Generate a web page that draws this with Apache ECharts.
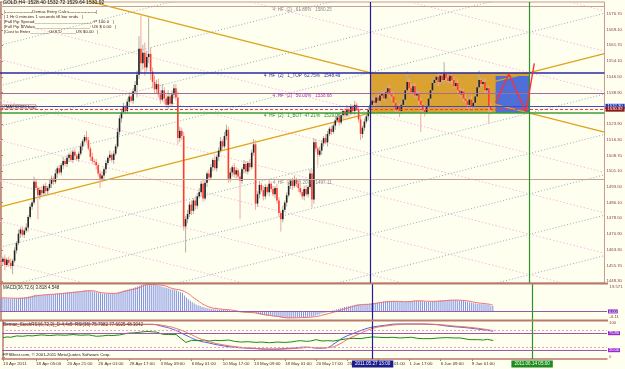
<!DOCTYPE html>
<html>
<head>
<meta charset="utf-8">
<script src="https://cdn.jsdelivr.net/npm/echarts@6.0.0/dist/echarts.min.js"></script>
<style>
  html, body { margin: 0; padding: 0; background: #fffff0; }
  #main { width: 625px; height: 369px; }
</style>
</head>
<body>
<div id="main"></div>
<script>
// GOLD H4, one value per bar, bar 0 = 13 Apr 2011, bar 252 = 10 Jun 21:00
const firstOpen = 1458.0;
const closes = [
  1457.5,1459.0,1456.0,1458.5,1457.0,1455.5,1458.0,1463.0,1466.5,1471.0,
  1473.0,1470.5,1472.5,1474.0,1479.0,1484.0,1486.0,1496.0,1493.0,1489.5,
  1492.0,1490.5,1494.0,1491.5,1493.0,1495.0,1497.5,1496.0,1500.0,1502.5,
  1500.5,1504.0,1506.0,1504.5,1507.5,1509.0,1506.5,1510.5,1508.5,1507.0,
  1509.5,1513.0,1515.5,1517.5,1516.0,1512.0,1508.0,1506.0,1505.5,1504.0,
  1500.0,1497.5,1499.0,1502.0,1505.0,1507.5,1509.0,1506.5,1509.5,1513.0,
  1520.0,1526.5,1529.5,1532.0,1530.0,1534.5,1537.0,1535.0,1539.5,1542.5,
  1547.5,1560.0,1553.0,1558.0,1551.0,1556.0,1557.5,1549.0,1544.0,1540.5,
  1543.0,1538.0,1535.5,1540.0,1536.0,1533.0,1537.0,1533.5,1538.0,1541.0,
  1536.5,1517.0,1520.5,1518.0,1474.5,1478.0,1480.5,1485.0,1482.0,1487.0,
  1484.5,1489.0,1491.0,1495.0,1488.0,1495.5,1500.0,1498.0,1503.0,1506.5,
  1502.5,1508.0,1511.0,1515.5,1513.0,1518.0,1521.0,1497.5,1500.5,1503.0,
  1499.5,1501.5,1498.5,1496.5,1502.0,1504.5,1501.0,1505.0,1503.0,1510.0,
  1514.0,1485.5,1490.0,1494.5,1492.0,1489.0,1493.5,1491.0,1495.0,1492.5,
  1490.0,1493.0,1487.0,1481.0,1478.0,1482.5,1486.0,1489.5,1494.0,1496.5,
  1494.0,1497.0,1495.0,1493.0,1491.0,1489.0,1492.5,1490.0,1493.5,1500.0,
  1487.5,1515.0,1512.0,1509.0,1511.0,1514.5,1517.0,1515.0,1519.0,1521.5,
  1520.0,1523.0,1525.5,1527.0,1524.5,1528.0,1530.0,1528.0,1531.0,1529.0,
  1532.0,1530.0,1533.0,1531.0,1526.0,1519.0,1522.0,1525.0,1527.5,1530.5,
  1533.0,1535.0,1534.0,1536.5,1535.0,1537.5,1538.5,1536.0,1539.0,1541.0,
  1538.0,1537.0,1534.0,1531.0,1532.5,1530.0,1533.0,1535.5,1540.0,1544.0,
  1541.0,1539.0,1542.0,1537.5,1538.5,1535.0,1533.0,1530.5,1529.5,1532.5,
  1536.0,1540.0,1543.5,1545.0,1546.5,1544.0,1547.0,1545.0,1548.0,1546.0,
  1544.5,1547.0,1545.0,1542.0,1543.5,1540.0,1538.0,1539.5,1536.0,1535.0,
  1533.0,1535.5,1532.0,1534.0,1537.0,1541.5,1545.0,1543.0,1544.0,1540.0,
  1541.0,1532.0,1530.92
];
// wick lengths above / below the body, dollars
const wickUp = [
  1.5,1,2,1,1.5,2,1,1.5,1,2, 1,1.5,1,2,1,1.5,1,2.5,1.5,1, 1.5,2,1,1.5,1,2,1.5,1,2,1,
  1.5,1,2,1,1.5,1,2,1,1.5,1, 1,1.5,1,1,3,1.5,1,2,1,1.5, 1,1.5,2,1,1.5,1,2,1,1.5,1,
  2,1.5,1,2,1,1.5,2,1,1.5,2, 2,6,16,4,5,3,17.5,3,2,3, 2,2.5,2,3,1.5,2,3,1.5,2,2,
  2,3,2,1.5,2,1.5,2,1.5,2,1, 2,1.5,2,1.5,2,1.5,1,2,1.5,1, 2,1,1.5,2,1,2,2.5,1.5,2,1,
  2,1.5,1,2,1,2,1.5,1,2,1.5, 2.5,2,1.5,2,1,2,1.5,1,2,1, 1.5,1,2,1.5,1,2,1,1.5,2,1,
  1.5,2,1,1.5,2,1,1.5,2,1,2, 2,2,1.5,1,2,1.5,1,2,1.5,1, 1.5,1,2,1.5,1,2,1,1.5,2,1,
  1.5,1,2,1,1.5,2,1,1.5,1,2, 1.5,2,1.5,1,2,2.5,1.5,1,2,1.5, 1,1.5,2,1,1.5,1,2,1.5,1,5,
  1.5,2,1,1.5,2,1,1.5,1,2,1, 1.5,1,2,1,1.5,2,1,1.5,5.5,1, 1.5,2,1,1.5,1,2,1,1.5,1,2,
  1,1.5,2,1,1.5,2,4.5,1,1.5,2, 1,1,1.8
];
const wickDn = [
  2,1.5,2.5,1,2,1.5,4,1,1.5,1, 2,1,1.5,1,2,1,1.5,1,1,11.5, 2,1.5,1,2,1.5,1,2,1.5,1,2,
  1,1.5,2,1,1.5,2,1,1.5,2,1, 1.5,1,2,1,1.5,1,2,1,1.5,2, 1.5,4.5,1,1.5,2,1,1.5,1,2,1,
  1,1.5,2,1,1.5,1,2,1,1.5,1, 6,2,5,3,4,2,3,4,3,2, 2,1.5,2,1,2.5,1.5,2,1,1.5,2,
  1.5,3,2,2,2,12.5,2,1.5,2,1.5, 2,1.5,1,2,1.5,1,2,1.5,1,2, 1,1.5,2,1,1.5,1,2,2,1.5,2,
  1.5,2,1,18.5,1.5,2,1,1.5,2,1, 1.5,3,1.5,2,1,2,1.5,1,2,1.5, 1,2,1.5,2,6,1.5,1,2,1,1.5,
  2,1,1.5,2,1,1.5,2,1,1.5,1, 4,2,1.5,5,1,2,1.5,1,2,1, 1.5,1,2,1,1.5,1,2,1.5,1,2,
  1,1.5,2,1,1.5,3,2,1.5,1,2, 1.5,1,2,1.5,1,2,1.5,1,2,1, 1.5,2,1,1.5,2,3,1.5,1,2,1,
  1.5,1,2,1,1.5,2,13,1.5,2,1, 1.5,2,1,1.5,1,2,1.5,1,2,1.5, 1,1.5,2,1,1.5,2,1,2,1.5,1,
  2,1.5,1,2,1.5,1,2,1.5,1,2, 1.5,8,2.5
];

// MACD(36,72,6) main, one value per bar
const macdHist = [
  9.6,9.5,9.4,9.3,9.2,9.1,9.1,9.2,9.3,9.5,
  9.7,9.9,10.1,10.3,10.6,10.9,11.2,11.7,11.9,11.8,
  11.8,11.8,11.9,11.9,12.0,12.1,12.3,12.4,12.6,12.8,
  12.9,13.1,13.3,13.4,13.6,13.8,13.9,14.1,14.2,14.2,
  14.3,14.5,14.7,14.9,15.0,14.9,14.6,14.3,14.0,13.7,
  13.3,13.0,12.8,12.7,12.7,12.8,12.9,12.9,13.0,13.2,
  13.6,14.1,14.6,15.0,15.3,15.7,16.1,16.4,16.8,17.2,
  17.7,18.4,18.8,19.2,19.4,19.5,19.6,19.5,19.3,19.0,
  18.7,18.3,17.9,17.5,17.1,16.7,16.3,15.9,15.6,15.3,
  15.0,14.3,13.7,13.1,11.4,9.9,8.7,7.6,6.6,5.8,
  5.0,4.4,3.9,3.4,3.0,2.6,2.3,2.0,1.8,1.6,
  1.4,1.3,1.2,1.1,1.1,1.0,1.0,0.6,0.3,0.1,
  -0.1,-0.3,-0.5,-0.7,-0.8,-0.9,-1.0,-1.1,-1.1,-1.1,
  -1.1,-1.6,-2.0,-2.3,-2.6,-2.8,-3.0,-3.2,-3.3,-3.5,
  -3.6,-3.8,-4.0,-4.3,-4.6,-4.7,-4.8,-4.8,-4.8,-4.7,
  -4.6,-4.5,-4.4,-4.3,-4.2,-4.1,-4.0,-3.9,-3.8,-3.6,
  -3.6,-3.0,-2.5,-2.1,-1.7,-1.3,-0.9,-0.5,-0.1,0.3,
  0.7,1.1,1.5,1.9,2.3,2.7,3.1,3.4,3.7,4.0,
  4.3,4.6,4.9,5.1,5.1,5.0,5.0,5.1,5.3,5.5,
  5.8,6.0,6.2,6.4,6.6,6.8,7.0,7.1,7.2,7.3,
  7.3,7.2,7.1,7.0,6.9,6.8,6.8,6.9,7.1,7.4,
  7.5,7.6,7.7,7.7,7.6,7.4,7.2,7.0,6.8,6.8,
  6.9,7.1,7.3,7.5,7.7,7.8,7.9,8.0,8.1,8.2,
  8.2,8.2,8.2,8.1,8.0,7.8,7.6,7.4,7.2,6.9,
  6.6,6.3,6.0,5.7,5.5,5.4,5.3,5.2,5.1,4.9,
  4.7,4.2,3.818
];
// [bar, value] points
const macdSignal = [[0,9.8],[10,9.4],[20,11.5],[30,12.6],[40,14.0],[46,14.8],[52,13.3],[58,12.9],
  [64,14.6],[70,16.6],[76,19.2],[82,18.8],[88,16.3],[94,14.2],[100,8.5],[106,3.5],[112,1.8],
  [118,1.0],[124,-0.4],[130,-1.0],[136,-2.5],[142,-3.6],[148,-4.6],[154,-4.4],[160,-3.9],
  [166,-2.2],[172,0.1],[178,2.6],[184,4.7],[190,5.3],[196,6.6],[202,7.2],[208,6.9],[214,7.6],
  [220,7.2],[226,7.5],[232,8.1],[238,7.7],[244,6.2],[250,5.2],[252,4.548]];
const stochK = [[0,97],[20,96],[40,97],[60,96],[76,96],[82,90],[88,80],[94,64],[100,49],[106,41],
  [112,34],[118,29],[126,26],[138,23],[148,26],[156,29],[162,26],[166,27],[171,42],[175,57],
  [180,69],[186,82],[190,88],[196,93],[203,97],[210,97],[220,96],[230,90],[240,85],[252,75.8]];
const stochD = [[0,96],[20,96],[40,96],[60,96],[76,96],[84,91],[90,82],[96,68],[102,52],[108,42],
  [114,35],[120,30],[128,26],[140,23],[150,25],[158,28],[164,27],[168,28],[173,38],[177,52],
  [182,65],[188,80],[192,87],[198,92],[205,96],[212,97],[222,96],[232,91],[242,86],[252,77.6]];
const rsiLine = [[0,57],[2,59],[4,58],[7,62],[10,61],[13,63],[15,62],[18,64],[20,65],[24,63],
  [28,65],[32,64],[36,66],[40,64],[44,65],[46,63],[48,61],[51,62],[54,64],[56,63],[60,65],
  [64,70],[67,71],[69,72],[72,74],[74,75],[77,74],[79,73],[82,67],[85,66],[89,66],[92,52],
  [94,43],[97,49],[100,48],[103,50],[106,47],[109,49],[112,48],[116,50],[119,46],[122,44],
  [126,45],[130,43],[133,44],[137,42],[141,44],[145,43],[148,44],[151,47],[153,48],[156,46],
  [158,47],[161,51],[164,47],[167,48],[170,47],[173,50],[176,53],[180,55],[184,54],[187,57],
  [190,59],[193,58],[197,57],[200,58],[204,56],[207,57],[210,58],[213,55],[216,54],[220,54],
  [224,56],[228,57],[232,56],[235,56],[238,53],[240,51],[244,51],[247,50],[249,52],[252,48.3]];

const priceTicks = [1576.70,1569.10,1561.70,1554.10,1546.50,1538.90,1531.30,1523.90,1516.30,
  1508.70,1501.10,1493.50,1486.10,1478.50,1470.90,1463.30,1455.70,1448.30];
const timeTickIdx = [0,17,33,49,65,81,97,113,129,145,161,177,193,209,225,241];
const timeTickText = ['13 Apr 2011','18 Apr 05:00','20 Apr 21:00','26 Apr 01:00','28 Apr 17:00',
  '3 May 09:00','6 May 01:00','10 May 17:00','13 May 09:00','18 May 01:00','20 May 17:00',
  '25 May 09:00','27 May 01:00','1 Jun 17:00','6 Jun 09:00','9 Jun 01:00'];

const levelPrices = [1580.25, 1548.49, 1538.68, 1529.06, 1497.11];
const levelTexts = ['4  HF  (2)   61.80%   1580.25', '4  HF  (2)   1_TOP  62.75%   1548.49',
  '4  HF  (2)   50.00%   1538.68', '4  HF  (2)   1_BOT  47.21%   1529.06', '4  HF  (2)   38.20%   1497.11'];
const orderPrices = [1532.30, 1530.92];

const boxLeft = 190, boxRight = 272, boxTop = 1548.49, boxBottom = 1529.06;
const blueBoxLeft = 254.5, blueBoxTop = 1546.9;
const zigzagIdx = [254.5, 261.3, 270.1, 274.4];
const zigzagPrice = [1534.0, 1548.0, 1529.6, 1553.0];
const buyLineIdx = 190, targetLineIdx = 272;

// ---------------------------------------------------------------
const XMIN = -0.5, XMAX = 310.5;
const frame = '#b87a6a';
const axisText = '#8a3c3c';
const FONT = 'Liberation Sans';

const candles = closes.map((c, i) => {
  const o = i === 0 ? firstOpen : closes[i - 1];
  const h = Math.max(o, c) + wickUp[i];
  const l = Math.min(o, c) - wickDn[i];
  return [i, o, c, l, h];
});

const slope = (boxTop - boxBottom) / (boxRight - boxLeft);
const boxH = boxTop - boxBottom;
function lattice(base, dir) {
  return [[XMIN, base + dir * slope * (XMIN - boxLeft)], [XMAX, base + dir * slope * (XMAX - boxLeft)]];
}
const series = [];
for (let k = -8; k <= 8; k++) {
  if (k !== 0) {
    series.push({ type: 'line', xAxisIndex: 0, yAxisIndex: 0, silent: true, showSymbol: false, z: 1,
      data: lattice(boxTop + k * boxH, -1),
      lineStyle: { color: '#f3b9e2', width: 1, type: [1.5, 2] } });
    series.push({ type: 'line', xAxisIndex: 0, yAxisIndex: 0, silent: true, showSymbol: false, z: 1,
      data: lattice(boxBottom + k * boxH, 1),
      lineStyle: { color: '#93abc6', width: 1, type: [1, 2] } });
  }
}

// boxes
series.push({
  type: 'line', xAxisIndex: 0, yAxisIndex: 0, data: [], z: 2, silent: true,
  markArea: {
    silent: true,
    data: [
      [{ xAxis: boxLeft, yAxis: boxTop, itemStyle: { color: '#d9a232', opacity: 1 } }, { xAxis: boxRight, yAxis: boxBottom }],
      [{ xAxis: blueBoxLeft, yAxis: blueBoxTop, itemStyle: { color: '#4e6ed8', opacity: 1 } }, { xAxis: boxRight, yAxis: boxBottom }]
    ]
  }
});

// orange trend lines
series.push({ type: 'line', xAxisIndex: 0, yAxisIndex: 0, silent: true, showSymbol: false, z: 3,
  data: lattice(boxTop, -1), lineStyle: { color: '#e0a21c', width: 1.3 } });
series.push({ type: 'line', xAxisIndex: 0, yAxisIndex: 0, silent: true, showSymbol: false, z: 3,
  data: lattice(boxBottom, 1), lineStyle: { color: '#e0a21c', width: 1.3 } });

// candles
series.push({
  type: 'custom', xAxisIndex: 0, yAxisIndex: 0, z: 4, clip: true,
  data: candles,
  encode: { x: 0, y: [1, 2, 3, 4] },
  renderItem: function (params, api) {
    const i = api.value(0), o = api.value(1), c = api.value(2), l = api.value(3), h = api.value(4);
    const pH = api.coord([i, h]), pL = api.coord([i, l]);
    const pO = api.coord([i, o]), pC = api.coord([i, c]);
    const up = c >= o;
    const bw = 1.6;
    const top = Math.min(pO[1], pC[1]);
    const bh = Math.max(Math.abs(pO[1] - pC[1]), 0.8);
    return {
      type: 'group',
      children: [
        { type: 'line', shape: { x1: pH[0], y1: pH[1], x2: pL[0], y2: pL[1] },
          style: { stroke: up ? '#b4aca6' : '#f4a6a2', lineWidth: 1 } },
        { type: 'rect', shape: { x: pO[0] - bw / 2, y: top, width: bw, height: bh },
          style: { fill: up ? '#222222' : '#ff3b30' } }
      ]
    };
  }
});

// horizontal level lines with texts and right-side price boxes
const levelLine = ['#c9a09a', '#2a2aa2', '#a46a9c', '#3c9c3c', '#c9a09a'];
const levelTextColor = ['#8c8c8c', '#2a2aa2', '#a234b4', '#2a8a2a', '#8c8c8c'];
const levelBox = ['#c07c70', '#16168a', '#9a2ad0', '#1e8c1e', '#c07c70'];
const levelMarks = [];
levelPrices.forEach((p, n) => {
  levelMarks.push({ yAxis: p, lineStyle: { color: levelLine[n], width: n === 1 || n === 3 ? 1.5 : 1, type: 'solid' },
    label: { show: true, position: 'insideMiddleBottom', distance: 0.5, formatter: levelTexts[n],
      color: levelTextColor[n], fontSize: 4.6, fontFamily: FONT } });
  levelMarks.push({ yAxis: p, lineStyle: { opacity: 0 },
    label: { show: true, position: 'end', distance: 1, formatter: p.toFixed(2), color: '#ffffff',
      backgroundColor: levelBox[n], padding: [0.5, 2], fontSize: 4.2, fontFamily: FONT } });
});
levelMarks.push({ yAxis: orderPrices[0], lineStyle: { color: '#3a4cc8', width: 1, type: 'solid' },
  label: { show: true, position: 'end', distance: 1, formatter: orderPrices[0].toFixed(2), color: '#fff',
    backgroundColor: '#2038c8', padding: [0.5, 2], fontSize: 4.2, fontFamily: FONT } });
levelMarks.push({ yAxis: orderPrices[1], lineStyle: { color: '#ff3b30', width: 1.2, type: [3, 2] },
  label: { show: true, position: 'end', distance: 1, formatter: orderPrices[1].toFixed(2), color: '#fff',
    backgroundColor: '#8a1a1a', padding: [0.5, 2], fontSize: 4.2, fontFamily: FONT } });
series.push({ type: 'line', xAxisIndex: 0, yAxisIndex: 0, data: [], z: 5, silent: true,
  markLine: { silent: true, symbol: 'none', animation: false, data: levelMarks } });

// zigzag
series.push({ type: 'line', xAxisIndex: 0, yAxisIndex: 0, silent: true, showSymbol: false, z: 6,
  data: zigzagIdx.map((x, n) => [x, zigzagPrice[n]]), lineStyle: { color: '#ff3030', width: 1.4 } });

function vlines(withLabels) {
  return {
    silent: true, symbol: 'none', animation: false,
    data: [
      { xAxis: buyLineIdx, lineStyle: { color: '#1c1c9c', width: 1.2, type: 'solid' },
        label: withLabels ? { show: true, position: 'start', distance: 1.5, formatter: '2011.05.27 13:00',
          color: '#ffffff', backgroundColor: '#1c1c8c', padding: [1, 3], fontSize: 4.6, fontFamily: FONT } : { show: false } },
      { xAxis: targetLineIdx, lineStyle: { color: '#2e902e', width: 1.2, type: 'solid' },
        label: withLabels ? { show: true, position: 'start', distance: 1.5, formatter: '2011.06.14 05:00',
          color: '#ffffff', backgroundColor: '#1e8c1e', padding: [1, 3], fontSize: 4.6, fontFamily: FONT } : { show: false } }
    ]
  };
}
series.push({ type: 'line', xAxisIndex: 0, yAxisIndex: 0, data: [], z: 7, markLine: vlines(false) });

// MACD pane
series.push({ type: 'bar', xAxisIndex: 1, yAxisIndex: 1, barWidth: 1, z: 2, silent: true,
  data: macdHist.map((v, i) => [i, v]), itemStyle: { color: '#8193e6' },
  markLine: { silent: true, symbol: 'none', animation: false,
    data: [{ yAxis: 0, lineStyle: { color: '#9a58a8', width: 1, type: 'solid' },
      label: { show: true, position: 'end', distance: 1, formatter: '0.00', color: '#fff',
        backgroundColor: '#8a2ac0', padding: [0, 1], fontSize: 4, fontFamily: FONT } }] } });
series.push({ type: 'line', xAxisIndex: 1, yAxisIndex: 1, data: macdSignal, smooth: true, showSymbol: false,
  silent: true, z: 3, lineStyle: { color: '#f07070', width: 1 } });
series.push({ type: 'line', xAxisIndex: 1, yAxisIndex: 1, data: [], z: 7, markLine: vlines(false) });

// StochRSI pane
series.push({ type: 'line', xAxisIndex: 2, yAxisIndex: 2, data: stochK, smooth: true, showSymbol: false,
  silent: true, z: 3, lineStyle: { color: '#4a62d8', width: 1 },
  markLine: { silent: true, symbol: 'none', animation: false,
    data: [
      { yAxis: 80, lineStyle: { color: '#e79ccc', width: 1, type: [2, 2] }, label: { show: false } },
      { yAxis: 70, lineStyle: { color: '#9a5aa8', width: 1, type: 'solid' },
        label: { show: true, position: 'end', distance: 1, formatter: '75.80', color: '#fff',
          backgroundColor: '#9a2ad0', padding: [0, 1], fontSize: 4, fontFamily: FONT } },
      { yAxis: 30, lineStyle: { color: '#e79ccc', width: 1, type: [2, 2] }, label: { show: false } },
      { yAxis: 20, lineStyle: { color: '#9a5aa8', width: 1, type: 'solid' },
        label: { show: true, position: 'end', distance: 1, formatter: '20.00', color: '#fff',
          backgroundColor: '#9a2ad0', padding: [0, 1], fontSize: 4, fontFamily: FONT } }
    ] } });
series.push({ type: 'line', xAxisIndex: 2, yAxisIndex: 2, data: stochD, smooth: true, showSymbol: false,
  silent: true, z: 4, lineStyle: { color: '#f26a62', width: 1 } });
series.push({ type: 'line', xAxisIndex: 2, yAxisIndex: 2, data: rsiLine, showSymbol: false,
  silent: true, z: 3, lineStyle: { color: '#1a8a1a', width: 1 } });
series.push({ type: 'line', xAxisIndex: 2, yAxisIndex: 2, data: [], z: 7, markLine: vlines(true) });

function xAxisFor(g, withLabels) {
  return {
    type: 'value', gridIndex: g, min: XMIN, max: XMAX,
    axisLine: { show: withLabels, onZero: false, lineStyle: { color: frame, width: 1.5 } },
    splitLine: { show: false },
    axisTick: withLabels ? { show: true, length: 2, customValues: timeTickIdx, lineStyle: { color: frame } } : { show: false },
    axisLabel: withLabels ? {
      show: true, customValues: timeTickIdx, align: 'left', margin: 2.5, fontSize: 4.4, fontFamily: FONT, color: '#4a2a2a',
      formatter: v => timeTickText[timeTickIdx.indexOf(Math.round(v))] || ''
    } : { show: false }
  };
}

const option = {
  backgroundColor: '#fffff0',
  animation: false,
  grid: [
    { left: 0, right: 18, top: 2, height: 281, show: true, borderColor: '#c69a90', borderWidth: 1, backgroundColor: 'transparent' },
    { left: 0, right: 18, top: 284, height: 36 },
    { left: 0, right: 18, top: 321, height: 38 }
  ],
  xAxis: [xAxisFor(0, false), xAxisFor(1, false), xAxisFor(2, true)],
  yAxis: [
    { type: 'value', gridIndex: 0, position: 'right', min: 1447.31, max: 1582.47, scale: true,
      splitLine: { show: false },
      axisLine: { show: true, lineStyle: { color: frame, width: 1.5 } },
      axisTick: { show: true, length: 2, customValues: priceTicks, lineStyle: { color: frame } },
      axisLabel: { customValues: priceTicks, formatter: v => v.toFixed(2), margin: 2, fontSize: 4.3,
        fontFamily: FONT, color: axisText } },
    { type: 'value', gridIndex: 1, position: 'right', min: -6.11, max: 19.571,
      splitLine: { show: false },
      axisLine: { show: true, lineStyle: { color: frame, width: 1.5 } },
      axisTick: { show: false }, axisLabel: { show: false } },
    { type: 'value', gridIndex: 2, position: 'right', min: -5.9, max: 105.9,
      splitLine: { show: false },
      axisLine: { show: true, lineStyle: { color: frame, width: 1.5 } },
      axisTick: { show: true, length: 2, customValues: [100, 0], lineStyle: { color: frame } },
      axisLabel: { customValues: [100, 0], formatter: v => String(Math.round(v)), margin: 2, fontSize: 4.3,
        fontFamily: FONT, color: axisText } }
  ],
  series: series,
  graphic: [
    { type: 'rect', shape: { x: 0, y: 282.5, width: 608, height: 2 }, style: { fill: frame }, z: 50 },
    { type: 'rect', shape: { x: 0, y: 319.5, width: 608, height: 2 }, style: { fill: frame }, z: 50 },
    { type: 'text', left: 3, top: 0.5, z: 60, style: { text: 'GOLD,H4  1528.40 1532.72 1529.64 1530.92', fontSize: 5, fontFamily: FONT, fill: '#111' } },
    { type: 'text', left: 4, top: 9.5, z: 60, style: { text: '|-------------------Demac Entry Calcs-------------------|', fontSize: 4.3, fontFamily: FONT, fill: '#4a2020' } },
    { type: 'text', left: 4, top: 14.5, z: 60, style: { text: '| 1 Hr 0 minutes 1 seconds till bar ends   |', fontSize: 4.3, fontFamily: FONT, fill: '#4a2020' } },
    { type: 'text', left: 4, top: 19.5, z: 60, style: { text: '|Full Pip Spread________________________: P 100.0   |', fontSize: 4.3, fontFamily: FONT, fill: '#4a2020' } },
    { type: 'text', left: 4, top: 24.5, z: 60, style: { text: '|Full Pip $/Value_______________________: US $ 0.00   |', fontSize: 4.3, fontFamily: FONT, fill: '#4a2020' } },
    { type: 'text', left: 4, top: 29.5, z: 60, style: { text: '|Cost to Enter________GOLD______US $0.00   |', fontSize: 4.3, fontFamily: FONT, fill: '#4a2020' } },
    { type: 'text', left: 2, top: 104.5, z: 60, style: { text: '#MATS2020 buy', fontSize: 4.3, fontFamily: FONT, fill: '#3a2020',
      borderColor: '#a06060', borderWidth: 0.6, padding: [0, 1] } },
    { type: 'text', left: 3, top: 285, z: 60, style: { text: 'MACD(36,72,6) 3.818 4.548', fontSize: 4.5, fontFamily: FONT, fill: '#222' } },
    { type: 'text', left: 609.5, top: 284.5, z: 60, style: { text: '19.571', fontSize: 4.3, fontFamily: FONT, fill: axisText } },
    { type: 'text', left: 609.5, top: 314.5, z: 60, style: { text: '-6.11', fontSize: 4.3, fontFamily: FONT, fill: axisText } },
    { type: 'text', left: 3, top: 322.5, z: 60, style: { text: 'Demac_StochRSI(6,72,3)_D-4,4x5  RSI(36) 75.7982 77.6025 48.3042', fontSize: 4.5, fontFamily: FONT, fill: '#5a2a2a' } },
    { type: 'text', left: 3, top: 352.5, z: 60, style: { text: 'FPSBest.com, \u00a9 2001-2011 MetaQuotes Software Corp.', fontSize: 4.3, fontFamily: FONT, fill: '#222' } }
  ]
};

const chart = echarts.init(document.getElementById('main'), null, { renderer: 'canvas' });
chart.setOption(option);
</script>
</body>
</html>
